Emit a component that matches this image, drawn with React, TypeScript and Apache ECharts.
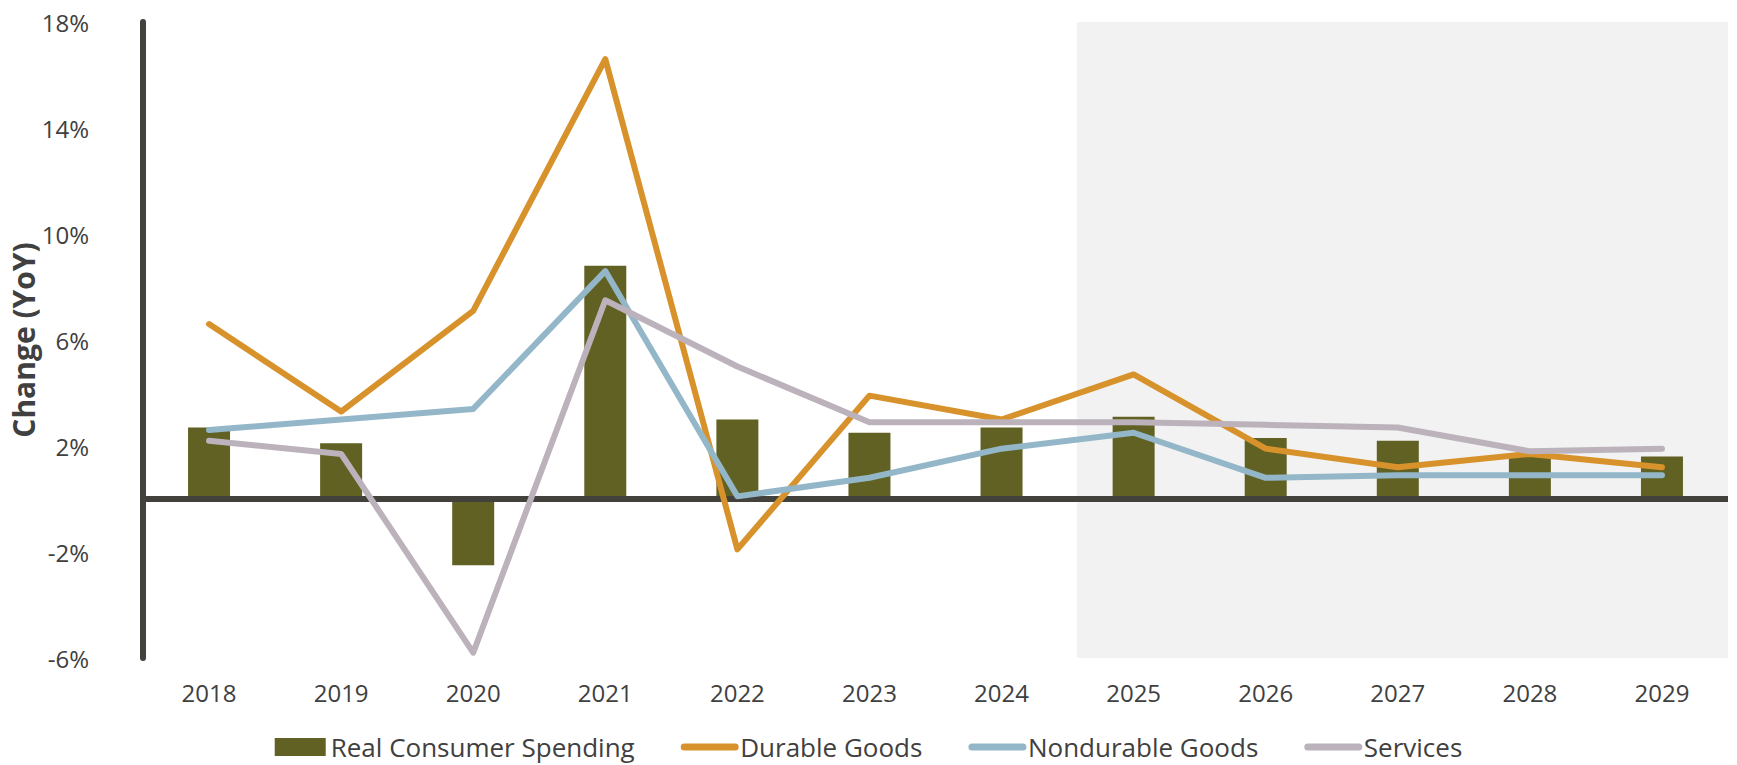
import { useEffect, useRef } from 'react';
import * as echarts from 'echarts';

const years = ['2018', '2019', '2020', '2021', '2022', '2023', '2024', '2025', '2026', '2027', '2028', '2029'];
const realConsumerSpending = [2.7, 2.1, -2.5, 8.8, 3.0, 2.5, 2.7, 3.1, 2.3, 2.2, 1.6, 1.6];
const durableGoods = [6.6, 3.3, 7.1, 16.6, -1.9, 3.9, 3.0, 4.7, 1.9, 1.2, 1.7, 1.2];
const nondurableGoods = [2.6, 3.0, 3.4, 8.6, 0.1, 0.8, 1.9, 2.5, 0.8, 0.9, 0.9, 0.9];
const services = [2.2, 1.7, -5.8, 7.5, 5.0, 2.9, 2.9, 2.9, 2.8, 2.7, 1.8, 1.9];

const yMin = -6;
const yMax = 18;
const yInterval = 4;
// forecast shading, in category-index units (band edges at k +/- 0.5)
const shadeFrom = 6.57;
const shadeTo = 11.5;

const FONT = '"Open Sans", sans-serif';
const TEXT = '#404040';
const AXIS = '#43413c';
const HIDDEN_SYMBOL = { opacity: 0, borderWidth: 0 };

export default function App() {
  const ref = useRef<HTMLDivElement>(null);
  useEffect(() => {
    const chart = echarts.init(ref.current!, null, { renderer: 'svg' });
    chart.setOption({
      animation: false,
      backgroundColor: '#ffffff',
      textStyle: { fontFamily: FONT },
      grid: { left: 143, right: 9, top: 22, bottom: 107, outerBoundsMode: 'none' },
      legend: {
        top: 729,
        left: 'center',
        itemWidth: 51,
        itemHeight: 18,
        itemGap: 46,
        textStyle: { fontSize: 26, color: TEXT, fontFamily: FONT },
        lineStyle: { width: 7, cap: 'round' },
        data: [
          { name: 'Real Consumer Spending', icon: 'rect' },
          { name: 'Durable Goods', itemStyle: HIDDEN_SYMBOL },
          { name: 'Nondurable Goods', itemStyle: HIDDEN_SYMBOL },
          { name: 'Services', itemStyle: HIDDEN_SYMBOL },
        ],
      },
      xAxis: [
        {
          type: 'category',
          data: years,
          axisLine: { show: false },
          axisTick: { show: false },
          splitLine: { show: false },
          axisLabel: { margin: 22, fontSize: 24, color: TEXT, fontFamily: FONT },
        },
        { type: 'value', min: -0.5, max: 11.5, show: false },
      ],
      yAxis: {
        type: 'value',
        min: yMin,
        max: yMax,
        interval: yInterval,
        name: 'Change (YoY)',
        nameLocation: 'middle',
        nameGap: 105,
        nameMoveOverlap: false,
        nameTextStyle: { fontSize: 30, fontWeight: 'bold', color: TEXT, fontFamily: FONT },
        axisLine: { show: true, onZero: false, lineStyle: { color: AXIS, width: 6 } },
        axisTick: { show: false },
        splitLine: { show: false },
        axisLabel: { formatter: '{value}%', margin: 54, fontSize: 24, color: TEXT, fontFamily: FONT },
      },
      series: [
        {
          name: 'forecast',
          type: 'line',
          xAxisIndex: 1,
          data: [],
          silent: true,
          z: 0,
          markArea: {
            silent: true,
            itemStyle: { color: '#f2f2f2' },
            data: [[{ xAxis: shadeFrom, yAxis: yMin }, { xAxis: shadeTo, yAxis: yMax }]],
          },
        },
        {
          name: 'Real Consumer Spending',
          type: 'bar',
          data: realConsumerSpending,
          barWidth: 42,
          itemStyle: { color: '#606122' },
          z: 2,
          markLine: {
            silent: true,
            z: 3,
            symbol: ['none', 'none'],
            label: { show: false },
            lineStyle: { color: AXIS, width: 6, type: 'solid' },
            emphasis: { disabled: true },
            data: [{ yAxis: 0 }],
          },
        },
        {
          name: 'Durable Goods',
          type: 'line',
          data: durableGoods,
          showSymbol: false,
          symbol: 'none',
          z: 4,
          itemStyle: { color: '#d8922b' },
          lineStyle: { color: '#d8922b', width: 6, cap: 'round', join: 'round' },
        },
        {
          name: 'Nondurable Goods',
          type: 'line',
          data: nondurableGoods,
          showSymbol: false,
          symbol: 'none',
          z: 4,
          itemStyle: { color: '#93b7c9' },
          lineStyle: { color: '#93b7c9', width: 6, cap: 'round', join: 'round' },
        },
        {
          name: 'Services',
          type: 'line',
          data: services,
          showSymbol: false,
          symbol: 'none',
          z: 4,
          itemStyle: { color: '#bbb2bb' },
          lineStyle: { color: '#bbb2bb', width: 6, cap: 'round', join: 'round' },
        },
      ],
    });
    return () => chart.dispose();
  }, []);
  return (
    <div
      ref={ref}
      style={{ position: 'fixed', left: 0, top: 0, width: 1737, height: 765, background: '#fff' }}
    />
  );
}
